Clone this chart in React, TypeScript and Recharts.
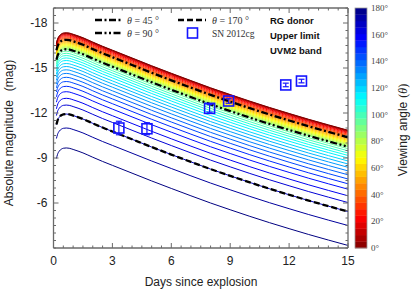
import React from 'react';
import { ComposedChart, Line, Scatter, XAxis, YAxis, ErrorBar } from 'recharts';

// ---- data ----
const days = [0.15, 0.2, 0.3, 0.4, 0.5, 0.65, 0.8, 1, 1.5, 2, 2.5, 3, 4, 5, 6, 7, 8, 9, 10, 11, 12, 13, 14, 15];
// light-curve shape: magnitudes fainter than peak, per day
const shapeOffset = [0.7, 0.45, 0.2, 0.08, 0.02, 0, 0.02, 0.1, 0.33, 0.62, 0.9, 1.16, 1.68, 2.2, 2.7, 3.19, 3.67, 4.12, 4.56, 4.98, 5.38, 5.77, 6.14, 6.5];
const angles = [0, 5, 10, 15, 20, 25, 30, 35, 40, 45, 50, 55, 60, 65, 70, 75, 80, 85, 90, 95, 100, 105, 110, 115, 120, 125, 130, 135, 140, 145, 150, 155, 160, 165, 170, 175, 180];
const peakMag = [-17.35, -17.33, -17.3, -17.26, -17.21, -17.15, -17.08, -17.01, -16.95, -16.88, -16.81, -16.74, -16.67, -16.6, -16.53, -16.46, -16.39, -16.32, -16.25, -16.12, -15.98, -15.83, -15.67, -15.5, -15.3, -15.1, -14.88, -14.64, -14.38, -14.1, -13.78, -13.42, -12.98, -12.53, -11.93, -11.0, -9.67];
const highlighted = [45, 90, 170];

const snDays = [3.33, 4.76, 7.95, 8.92, 11.83, 12.63];
const snMag = [-11.0, -10.95, -12.31, -12.8, -13.87, -14.13];
const snErr = [0.45, 0.4, 0.25, 0.15, 0.12, 0.12];

const xMajor = [0, 3, 6, 9, 12, 15];
const yMajor = [-18, -15, -12, -9, -6];
const cbarLabels = [0, 20, 40, 60, 80, 100, 120, 140, 160, 180];

// ---- derived tables ----
const rows = days.map((d, i) => {
  const r: any = { day: d };
  angles.forEach((a, j) => { r['a' + a] = +(peakMag[j] + shapeOffset[i]).toFixed(3); });
  return r;
});
const snRows = snDays.map((d, i) => ({ day: d, mag: snMag[i], err: snErr[i] }));

const xTicks: number[] = [];
for (let v = 0; v <= 15.001; v += 0.5) xTicks.push(+v.toFixed(1));
const yTicks: number[] = [];
for (let v = -19; v <= -2.999; v += 0.5) yTicks.push(+v.toFixed(1));

function jet(v: number) {
  const c = (x: number) => Math.max(0, Math.min(1, x));
  const r = c(1.5 - Math.abs(4 * v - 3));
  const g = c(1.5 - Math.abs(4 * v - 2));
  const b = c(1.5 - Math.abs(4 * v - 1));
  return `rgb(${Math.round(r * 255)},${Math.round(g * 255)},${Math.round(b * 255)})`;
}

const dashStyle: Record<number, string> = { 45: '7 2.5 2 2.5', 90: '7 2.5 2 2.5 2 2.5', 170: '6 3' };

const AX = '#6a6a6a';
const SANS = 'Liberation Sans, Arial, sans-serif';
const SERIF = 'Liberation Serif, DejaVu Serif, serif';

const isMajor = (v: number, list: number[]) => list.some((m) => Math.abs(m - v) < 1e-6);

const makeXTick = (side: 'bottom' | 'top') => (p: any) => {
  const { x, y, payload } = p;
  const major = isMajor(payload.value, xMajor);
  const len = major ? 5 : 2.5;
  const dir = side === 'bottom' ? -1 : 1;
  return (
    <g>
      <line x1={x} y1={y} x2={x} y2={y + dir * len} stroke={AX} strokeWidth={1} />
      {side === 'bottom' && major ? (
        <text x={x} y={y + 17} textAnchor="middle" fontSize={12} fontFamily={SANS} fill="#222">{payload.value}</text>
      ) : null}
    </g>
  );
};

const makeYTick = (side: 'left' | 'right') => (p: any) => {
  const { x, y, payload } = p;
  const major = isMajor(payload.value, yMajor);
  const len = major ? 5 : 2.5;
  const dir = side === 'left' ? 1 : -1;
  return (
    <g>
      <line x1={x} y1={y} x2={x + dir * len} y2={y} stroke={AX} strokeWidth={1} />
      {side === 'left' && major ? (
        <text x={x - 6} y={y} dy="0.36em" textAnchor="end" fontSize={12} fontFamily={SANS} fill="#222">{payload.value}</text>
      ) : null}
    </g>
  );
};

const SquareShape = (p: any) => (
  <rect x={p.cx - 5} y={p.cy - 5} width={10} height={10} fill="none" stroke="#1414ff" strokeWidth={1.6} />
);

const PL = 53.5, PT = 8, PR = 348, PB = 248;

export default function App() {
  const nBands = 37;
  const cbX = 355, cbW = 12, cbTop = PT, cbBot = PB;
  const bandH = (cbBot - cbTop) / nBands;
  return (
    <div style={{ position: 'absolute', left: 0, top: 0, width: 415, height: 292, background: '#fff' }}>
      <ComposedChart width={415} height={292} data={rows} margin={{ top: PT - 1, right: 415 - PR - 1, bottom: 292 - PB - 1, left: PL - 1 }}>
        <XAxis xAxisId="b" dataKey="day" type="number" domain={[0, 15]} allowDataOverflow ticks={xTicks} interval={0}
          height={1} tickSize={0} tickMargin={0} tick={makeXTick('bottom')} axisLine={{ stroke: AX, strokeWidth: 1.3 }} />
        <XAxis xAxisId="t" orientation="top" dataKey="day" type="number" domain={[0, 15]} allowDataOverflow ticks={xTicks} interval={0}
          height={1} tickSize={0} tickMargin={0} tick={makeXTick('top')} axisLine={{ stroke: AX, strokeWidth: 1.3 }} />
        <YAxis yAxisId="l" type="number" domain={[-19, -3]} reversed allowDataOverflow ticks={yTicks} interval={0}
          width={1} tickSize={0} tickMargin={0} tick={makeYTick('left')} axisLine={{ stroke: AX, strokeWidth: 1.3 }} />
        <YAxis yAxisId="r" orientation="right" type="number" domain={[-19, -3]} reversed allowDataOverflow ticks={yTicks} interval={0}
          width={1} tickSize={0} tickMargin={0} tick={makeYTick('right')} axisLine={{ stroke: AX, strokeWidth: 1.3 }} />
        {angles.slice().reverse().map((a) => (
          <Line key={'c' + a} xAxisId="b" yAxisId="l" type="monotone" dataKey={'a' + a} stroke={jet(1 - a / 180)}
            strokeWidth={1} dot={false} activeDot={false} isAnimationActive={false} />
        ))}
        {highlighted.map((a) => (
          <Line key={'h' + a} xAxisId="b" yAxisId="l" type="monotone" dataKey={'a' + a} stroke="#000"
            strokeWidth={2.3} strokeDasharray={dashStyle[a]} dot={false} activeDot={false} isAnimationActive={false} />
        ))}
        <Scatter xAxisId="b" yAxisId="l" data={snRows} dataKey="mag" shape={SquareShape} isAnimationActive={false}>
          <ErrorBar dataKey="err" direction="y" width={3} stroke="#1414ff" strokeWidth={1.2} />
        </Scatter>
      </ComposedChart>
      <svg width={415} height={292} style={{ position: 'absolute', left: 0, top: 0, pointerEvents: 'none' }}>
        {/* legend */}
        <line x1={95} y1={20} x2={121} y2={20} stroke="#000" strokeWidth={2.3} strokeDasharray={dashStyle[45]} />
        <line x1={95} y1={33} x2={121} y2={33} stroke="#000" strokeWidth={2.3} strokeDasharray={dashStyle[90]} />
        <line x1={178} y1={20} x2={206} y2={20} stroke="#000" strokeWidth={2.3} strokeDasharray={dashStyle[170]} />
        <rect x={187.5} y={28} width={10} height={10} fill="none" stroke="#1414ff" strokeWidth={1.6} />
        <text x={127} y={23.5} fontSize={10} fontFamily={SERIF} fill="#333"><tspan fontStyle="italic">θ</tspan> = 45 °</text>
        <text x={127} y={37} fontSize={10} fontFamily={SERIF} fill="#333"><tspan fontStyle="italic">θ</tspan> = 90 °</text>
        <text x={212} y={23.5} fontSize={10} fontFamily={SERIF} fill="#333"><tspan fontStyle="italic">θ</tspan> = 170 °</text>
        <text x={212} y={37} fontSize={9.5} fontFamily={SERIF} fill="#333">SN 2012cg</text>
        <text x={270} y={24} fontSize={9.5} fontWeight="bold" fontFamily={SANS} fill="#111">RG donor</text>
        <text x={270} y={39} fontSize={9.5} fontWeight="bold" fontFamily={SANS} fill="#111">Upper limit</text>
        <text x={270} y={54} fontSize={9.5} fontWeight="bold" fontFamily={SANS} fill="#111">UVM2 band</text>
        {/* axis titles */}
        <text transform="translate(13,133) rotate(-90)" textAnchor="middle" fontSize={12} fontFamily={SANS} fill="#222">
          Absolute magnitude<tspan dx={9}>(mag)</tspan>
        </text>
        <text x={201} y={286} textAnchor="middle" fontSize={12} fontFamily={SANS} fill="#222">Days since explosion</text>
        {/* colorbar */}
        {Array.from({ length: nBands }).map((_, k) => (
          <rect key={k} x={cbX} y={cbBot - (k + 1) * bandH} width={cbW} height={bandH + 0.3} fill={jet(1 - (k + 0.5) / nBands)} />
        ))}
        <rect x={cbX} y={cbTop} width={cbW} height={cbBot - cbTop} fill="none" stroke="#999" strokeWidth={0.8} />
        {cbarLabels.map((a) => (
          <text key={a} x={371} y={cbBot - (a / 180) * (cbBot - cbTop)} dy="0.35em" fontSize={9} fontFamily={SERIF} fill="#444">{a}°</text>
        ))}
        <text transform="translate(407,130) rotate(-90)" textAnchor="middle" fontSize={12} fontFamily={SANS} fill="#222">
          Viewing angle<tspan dx={4} fontFamily={SERIF}>(</tspan><tspan fontFamily={SERIF} fontStyle="italic">θ</tspan><tspan fontFamily={SERIF}>)</tspan>
        </text>
      </svg>
    </div>
  );
}
